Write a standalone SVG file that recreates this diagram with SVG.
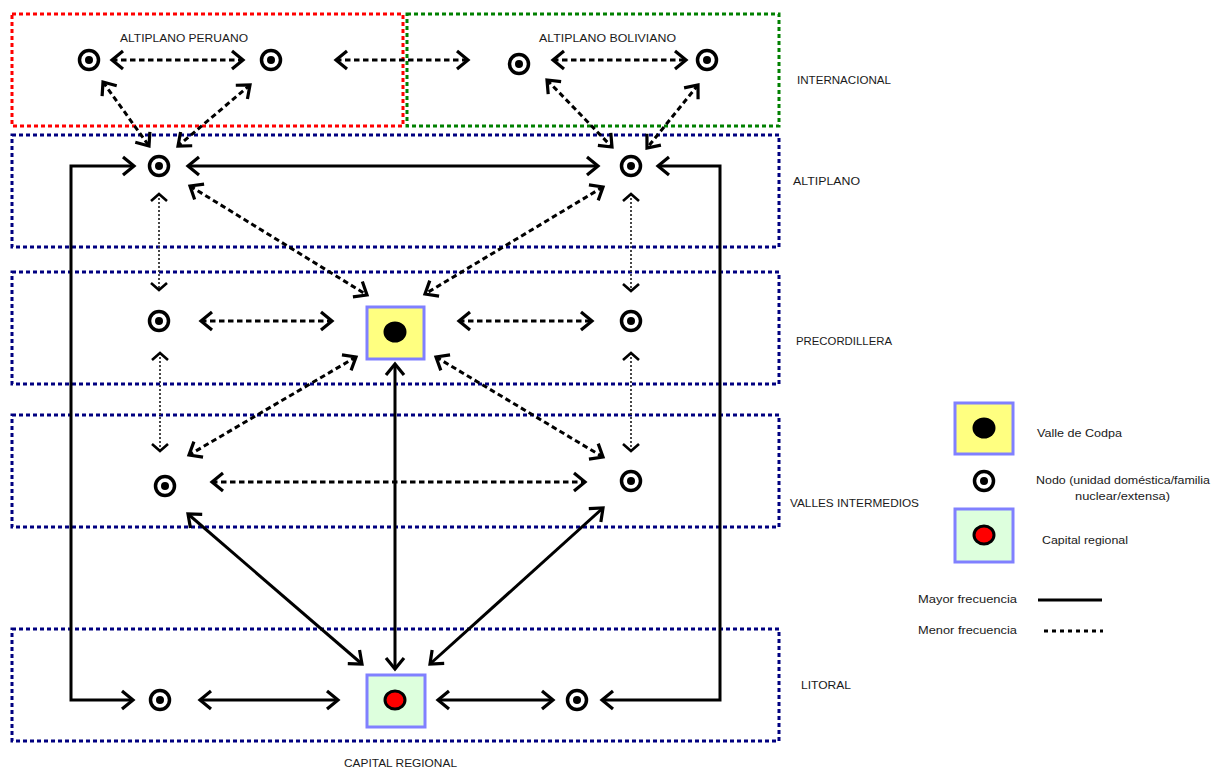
<svg xmlns="http://www.w3.org/2000/svg" width="1212" height="769" viewBox="0 0 1212 769">
  <style>
    text { font-family: "Liberation Sans", Arial, sans-serif; fill: #1a1a1a; }
    .lvl { font-size: 11px; }
    .leg { font-size: 11.5px; }
    .zone { fill: none; stroke-width: 3; stroke-dasharray: 4 3; }
    .blue { stroke: #000080; }
    .red { stroke: #ff0000; }
    .green { stroke: #008000; }
    .solid { fill: none; stroke: #000; stroke-width: 3; marker-start: url(#ah); marker-end: url(#ah); }
    .dash { fill: none; stroke: #000; stroke-width: 3; stroke-dasharray: 5.5 3.5; marker-start: url(#ah); marker-end: url(#ah); }
    .dot { fill: none; stroke: #333; stroke-width: 1.8; stroke-dasharray: 2 2; marker-start: url(#dh); marker-end: url(#dh); }
    .ring { fill: #fff; stroke: #000; stroke-width: 3.5; }
    .core { fill: #000; }
    .codpa { fill: #ffff80; stroke: #8080ff; stroke-width: 3; }
    .capital { fill: #ddffdd; stroke: #8080ff; stroke-width: 3; }
  </style>
  <defs>
    <marker id="ah" markerUnits="userSpaceOnUse" orient="auto-start-reverse" overflow="visible" markerWidth="30" markerHeight="30" refX="0" refY="0">
      <path d="M-11,-9 L0,0 L-11,9" fill="none" stroke="#000" stroke-width="3.2"/>
    </marker>
    <marker id="dh" markerUnits="userSpaceOnUse" orient="auto-start-reverse" overflow="visible" markerWidth="20" markerHeight="20" refX="0" refY="0">
      <path d="M-7,-8 L0,0 L-7,8" fill="none" stroke="#000" stroke-width="2.6"/>
    </marker>
    <g id="node">
      <circle r="9.5" class="ring"/>
      <circle r="4" class="core"/>
    </g>
  </defs>

  <rect width="1212" height="769" fill="#fff"/>

  <!-- zones -->
  <g id="zones">
    <rect class="zone red" x="12" y="14" width="391" height="112"/>
    <rect class="zone green" x="407" y="14" width="372" height="112"/>
    <rect class="zone blue" x="12" y="135" width="767" height="112"/>
    <rect class="zone blue" x="12" y="272" width="767" height="112"/>
    <rect class="zone blue" x="12" y="415" width="767" height="112"/>
    <rect class="zone blue" x="12" y="629" width="767" height="112"/>
  </g>

  <!-- zone labels -->
  <g id="labels">
    <text class="lvl" x="120" y="42" textLength="128" lengthAdjust="spacingAndGlyphs">ALTIPLANO PERUANO</text>
    <text class="lvl" x="539" y="42" textLength="137" lengthAdjust="spacingAndGlyphs">ALTIPLANO BOLIVIANO</text>
    <text class="lvl" x="797" y="84" textLength="94" lengthAdjust="spacingAndGlyphs">INTERNACIONAL</text>
    <text class="lvl" x="793" y="185" textLength="67" lengthAdjust="spacingAndGlyphs">ALTIPLANO</text>
    <text class="lvl" x="796" y="345" textLength="96" lengthAdjust="spacingAndGlyphs">PRECORDILLERA</text>
    <text class="lvl" x="790" y="507" textLength="129" lengthAdjust="spacingAndGlyphs">VALLES INTERMEDIOS</text>
    <text class="lvl" x="801" y="689" textLength="50" lengthAdjust="spacingAndGlyphs">LITORAL</text>
    <text class="lvl" x="344" y="767" textLength="113" lengthAdjust="spacingAndGlyphs">CAPITAL REGIONAL</text>
  </g>

  <!-- connectors -->
  <g id="connectors">
    <!-- international links -->
    <path class="dash" d="M112,60 H243"/>
    <path class="dash" d="M103,82 L149,146"/>
    <path class="dash" d="M250,85 L178,146"/>
    <path class="dash" d="M336,60 H468"/>
    <path class="dash" d="M553,60 H686"/>
    <path class="dash" d="M547,80 L612,147"/>
    <path class="dash" d="M698,85 L647,148"/>
    <!-- altiplano -->
    <path class="solid" d="M188,166 H598"/>
    <path class="solid" d="M134,166 H71 V700 H133"/>
    <path class="solid" d="M658,166 H720 V700 H602"/>
    <path class="dash" d="M190,186 L367,295"/>
    <path class="dash" d="M603,187 L425,294"/>
    <!-- vertical household ties -->
    <path class="dot" d="M159,194 V290"/>
    <path class="dot" d="M160,353 V451"/>
    <path class="dot" d="M631,194 V291"/>
    <path class="dot" d="M631,353 V451"/>
    <!-- precordillera -->
    <path class="dash" d="M201,321 H332"/>
    <path class="dash" d="M459,321 H592"/>
    <path class="dash" d="M356,357 L189,455"/>
    <path class="dash" d="M436,357 L603,457"/>
    <!-- valles -->
    <path class="dash" d="M212,482 H585"/>
    <path class="solid" d="M188,514 L362,664"/>
    <path class="solid" d="M603,508 L430,664"/>
    <path class="solid" d="M395,364 V669"/>
    <!-- litoral -->
    <path class="solid" d="M200,700 H338"/>
    <path class="solid" d="M438,700 H553"/>
  </g>

  <!-- nodes -->
  <g id="peru-a"><use href="#node" x="89" y="60"/></g>
  <g id="peru-b"><use href="#node" x="271" y="60"/></g>
  <g id="bolivia-a"><use href="#node" x="519" y="64"/></g>
  <g id="bolivia-b"><use href="#node" x="707" y="60"/></g>
  <g id="altiplano-a"><use href="#node" x="159" y="166"/></g>
  <g id="altiplano-b"><use href="#node" x="631" y="166"/></g>
  <g id="precordillera-a"><use href="#node" x="159" y="321"/></g>
  <g id="precordillera-b"><use href="#node" x="631" y="321"/></g>
  <g id="valles-a"><use href="#node" x="165" y="486"/></g>
  <g id="valles-b"><use href="#node" x="631" y="481"/></g>
  <g id="litoral-a"><use href="#node" x="160" y="700"/></g>
  <g id="litoral-b"><use href="#node" x="577" y="700"/></g>

  <g id="codpa">
    <rect class="codpa" x="367" y="307" width="57" height="52"/>
    <ellipse cx="395" cy="332" rx="11.5" ry="10.5" fill="#000"/>
  </g>
  <g id="capital">
    <rect class="capital" x="367" y="675" width="58" height="52"/>
    <ellipse cx="395" cy="700" rx="10" ry="9" fill="#ff0000" stroke="#000" stroke-width="3"/>
  </g>

  <!-- legend -->
  <g id="legend">
    <g id="legend-codpa">
      <rect class="codpa" x="955" y="403" width="58" height="51"/>
      <ellipse cx="984" cy="428" rx="11.5" ry="10.5" fill="#000"/>
      <text class="leg" x="1037" y="437" textLength="85" lengthAdjust="spacingAndGlyphs">Valle de Codpa</text>
    </g>
    <g id="legend-node">
      <use href="#node" x="984" y="481"/>
      <text class="leg" x="1036" y="484" textLength="174" lengthAdjust="spacingAndGlyphs">Nodo (unidad doméstica/familia</text>
      <text class="leg" x="1075" y="500" textLength="95" lengthAdjust="spacingAndGlyphs">nuclear/extensa)</text>
    </g>
    <g id="legend-capital">
      <rect class="capital" x="955" y="509" width="58" height="53"/>
      <ellipse cx="984" cy="535" rx="10" ry="9" fill="#ff0000" stroke="#000" stroke-width="3"/>
      <text class="leg" x="1042" y="544" textLength="86" lengthAdjust="spacingAndGlyphs">Capital regional</text>
    </g>
    <g id="legend-lines">
      <text class="leg" x="918" y="603" textLength="99" lengthAdjust="spacingAndGlyphs">Mayor frecuencia</text>
      <line x1="1038" y1="600" x2="1102" y2="600" stroke="#000" stroke-width="3"/>
      <text class="leg" x="918" y="634" textLength="99" lengthAdjust="spacingAndGlyphs">Menor frecuencia</text>
      <line x1="1044" y1="631" x2="1103" y2="631" stroke="#000" stroke-width="3" stroke-dasharray="4 4"/>
    </g>
  </g>
</svg>
